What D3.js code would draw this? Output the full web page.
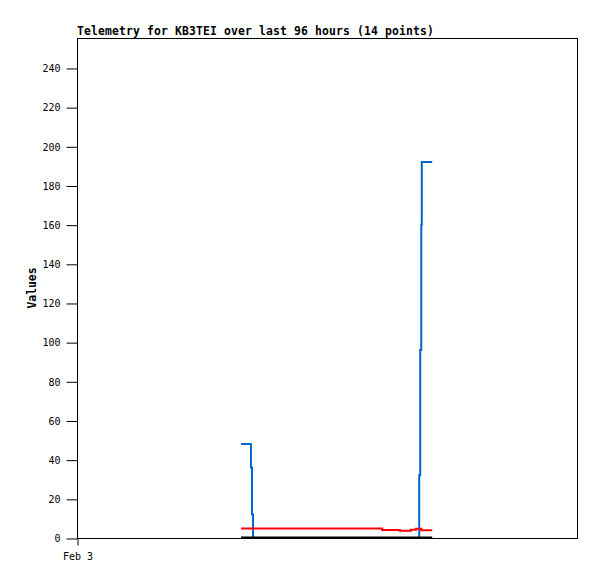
<!DOCTYPE html>
<html>
<head>
<meta charset="utf-8">
<script src="https://cdn.jsdelivr.net/npm/d3@7"></script>
<style>
  body { margin: 0; background: #fff; }
  text { font-family: "DejaVu Sans Mono", monospace; }
</style>
</head>
<body>
<div id="chart"></div>
<script>
// hours since Feb 3 00:00 for each telemetry point
const hours = [31.5, 33.4, 33.6, 33.8, 58.6, 62.0, 64.1, 65.1, 65.7, 65.9, 66.1, 66.2, 67.0, 68.2];
const seriesBlue = [48, 36, 12, 0, 0, 0, 0, 0, 32, 96, 160, 192, 192, 192];
const seriesRed = [4.8, 4.8, 4.8, 4.8, 4.1, 3.7, 4.2, 4.7, 4.7, 4.7, 3.9, 3.9, 3.9, 3.9];
const seriesBlack = [0, 0, 0, 0, 0, 0, 0, 0, 0, 0, 0, 0, 0, 0];
const yTicks = [0, 20, 40, 60, 80, 100, 120, 140, 160, 180, 200, 220, 240];
const xTickHours = [0];
const xTickLabels = ['Feb 3'];

const width = 597, height = 579;
const margin = {left: 77, right: 20, top: 38, bottom: 41};

const svg = d3.select('#chart').append('svg')
  .attr('width', width)
  .attr('height', height);

const x = d3.scaleLinear()
  .domain([0, 96])
  .range([margin.left, width - margin.right]);

const y = d3.scaleLinear()
  .domain([0, 255.3])
  .range([height - margin.bottom, margin.top]);

svg.append('defs').append('clipPath').attr('id', 'plot')
  .append('rect')
  .attr('x', margin.left)
  .attr('y', margin.top)
  .attr('width', width - margin.left - margin.right)
  .attr('height', height - margin.top - margin.bottom);

// title
svg.append('text')
  .attr('x', margin.left)
  .attr('y', 35)
  .style('font-size', '11.4px')
  .style('font-weight', 'bold')
  .style('letter-spacing', '0.14px')
  .text('Telemetry for KB3TEI over last 96 hours (14 points)');

// frame
svg.append('rect')
  .attr('x', margin.left + 0.5)
  .attr('y', margin.top + 0.5)
  .attr('width', width - margin.left - margin.right)
  .attr('height', height - margin.top - margin.bottom)
  .attr('fill', 'none')
  .attr('stroke', '#000');

// lines
const line = d3.line()
  .x(d => x(d[0]))
  .y(d => y(d[1]))
  .curve(d3.curveStepAfter);

const series = [
  {values: seriesBlue, color: '#0066cc', w: 2},
  {values: seriesRed, color: '#ff0000', w: 2},
  {values: seriesBlack, color: '#000000', w: 3}
];

svg.append('g').attr('clip-path', 'url(#plot)')
  .selectAll('path')
  .data(series)
  .enter()
  .append('path')
  .attr('d', s => line(hours.map((h, i) => [h, s.values[i]])))
  .attr('fill', 'none')
  .attr('stroke', s => s.color)
  .attr('stroke-width', s => s.w);

// y axis
const yAxis = d3.axisLeft(y)
  .tickValues(yTicks)
  .tickSize(11)
  .tickPadding(6);

const yg = svg.append('g')
  .attr('transform', 'translate(' + (margin.left + 0.5) + ',0.5)')
  .call(yAxis);
yg.select('.domain').remove();
yg.selectAll('text')
  .style('font-family', '"DejaVu Sans Mono", monospace')
  .style('font-size', '10px')
  .attr('fill', '#000');

// x axis
const xAxis = d3.axisBottom(x)
  .tickValues(xTickHours)
  .tickFormat((d, i) => xTickLabels[i])
  .tickSize(7)
  .tickPadding(7);

const xg = svg.append('g')
  .attr('transform', 'translate(0.5,' + (height - margin.bottom + 0.5) + ')')
  .call(xAxis);
xg.select('.domain').remove();
xg.selectAll('text')
  .style('font-family', '"DejaVu Sans Mono", monospace')
  .style('font-size', '10px')
  .attr('fill', '#000');

// y label
svg.append('text')
  .attr('transform', 'translate(36,' + ((margin.top + height - margin.bottom) / 2 + 0) + ') rotate(-90)')
  .attr('text-anchor', 'middle')
  .style('font-size', '11.4px')
  .style('font-weight', 'bold')
  .text('Values');
</script>
</body>
</html>
